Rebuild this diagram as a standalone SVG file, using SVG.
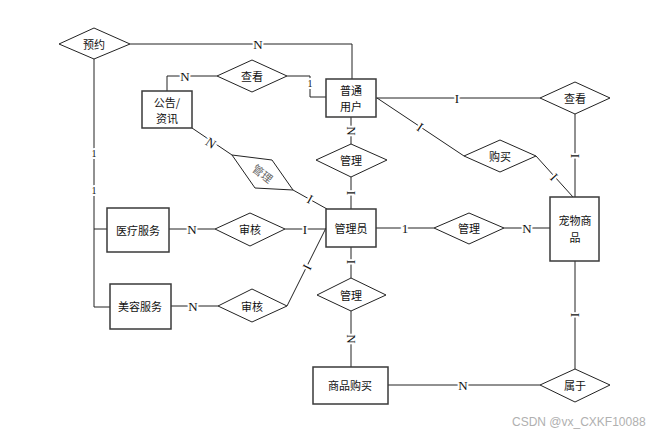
<svg xmlns="http://www.w3.org/2000/svg" width="652" height="435" viewBox="0 0 652 435">
<style>
.bg{fill:#fff}
.ent rect{fill:#fff;stroke:#3a3a3a;stroke-width:1.5}
.rel polygon{fill:#fff;stroke:#222;stroke-width:1}
.t{font-family:"Noto Sans CJK SC","Liberation Sans",sans-serif;font-size:11px;fill:#111;text-anchor:middle;dominant-baseline:central}
.conn path{fill:none;stroke:#222;stroke-width:1}
.lb{font-family:"Liberation Serif",serif;font-size:13px;fill:#111;text-anchor:middle;dominant-baseline:central;stroke:#fff;stroke-width:4;paint-order:stroke}
.sm{font-size:10px}
.wm{font-family:"Liberation Sans",sans-serif;font-size:12px;fill:#b0b0b0}
</style>
<rect class="bg" width="652" height="435"/>
<g class="conn" id="connectors">
<path d="M130,44 H352 V79"/>
<path d="M94,59 V307 M94,229 H107 M94,307 H110"/>
<path d="M217,76 H167 V91"/>
<path d="M287,76 H310 V97 H326"/>
<path d="M376,98 H540"/>
<path d="M377,98 L464,156"/>
<path d="M536,156 L573,197"/>
<path d="M575,114 V197"/>
<path d="M351,117 V144"/>
<path d="M351,177 V209"/>
<path d="M192,128 L232,155"/>
<path d="M293,190 L327,209"/>
<path d="M169,229 H215"/>
<path d="M285,229 H326"/>
<path d="M171,306 H218"/>
<path d="M287,306 L326,228"/>
<path d="M376,228 H434"/>
<path d="M504,228 H550"/>
<path d="M351,247 V278"/>
<path d="M351,311 V367"/>
<path d="M388,385 H540"/>
<path d="M575,261 V369"/>
</g>
<g id="labels">
<text class="lb" x="258" y="44">N</text>
<text class="lb" x="185" y="76">N</text>
<text class="lb sm" x="310" y="83">1</text>
<text class="lb" x="457" y="98">I</text>
<text class="lb" x="420" y="127" transform="rotate(34 420 127)">I</text>
<text class="lb" x="554" y="177" transform="rotate(47 554 177)">I</text>
<text class="lb" x="575" y="156" transform="rotate(90 575 156)">I</text>
<text class="lb" x="351" y="131" transform="rotate(90 351 131)">N</text>
<text class="lb" x="351" y="193" transform="rotate(90 351 193)">I</text>
<text class="lb" x="211" y="143" transform="rotate(34 211 143)">N</text>
<text class="lb" x="310" y="199" transform="rotate(28 310 199)">I</text>
<text class="lb" x="192" y="229">N</text>
<text class="lb" x="305" y="229">I</text>
<text class="lb" x="193" y="306">N</text>
<text class="lb" x="307" y="267" transform="rotate(-63 307 267)">I</text>
<text class="lb" x="405" y="228">1</text>
<text class="lb" x="527" y="228">N</text>
<text class="lb" x="351" y="262" transform="rotate(90 351 262)">I</text>
<text class="lb" x="351" y="339" transform="rotate(90 351 339)">N</text>
<text class="lb" x="463" y="385">N</text>
<text class="lb" x="575" y="315" transform="rotate(90 575 315)">I</text>
<text class="lb sm" x="94" y="153">1</text>
<text class="lb sm" x="94" y="190">1</text>
</g>
<g id="n-yuyue" class="rel"><polygon points="59,44 94,28 130,44 94,59"/><text class="t" x="94" y="44">预约</text></g>
<g id="n-chakan1" class="rel"><polygon points="217,76 252,60 287,76 252,92"/><text class="t" x="252" y="76">查看</text></g>
<g id="n-gonggao" class="ent"><rect x="142" y="91" width="50" height="37"/><text class="t" x="167" y="101.5">公告/</text><text class="t" x="167" y="117.5">资讯</text></g>
<g id="n-putong" class="ent"><rect x="326" y="79" width="50" height="38"/><text class="t" x="351" y="90">普通</text><text class="t" x="351" y="106">用户</text></g>
<g id="n-chakan2" class="rel"><polygon points="540,98 575,82 610,98 575,114"/><text class="t" x="575" y="98">查看</text></g>
<g id="n-goumai" class="rel"><polygon points="464,156 500,140 536,156 500,172"/><text class="t" x="500" y="156">购买</text></g>
<g id="n-guanli1" class="rel"><polygon points="316,160 351,144 387,160 351,177"/><text class="t" x="351" y="160">管理</text></g>
<g id="n-guanli-diag" class="rel"><polygon points="232,155 272,160 293,190 255,188"/><text class="t" x="263" y="173" transform="rotate(38 263 173)" style="fill:#666">管理</text></g>
<g id="n-guanliyuan" class="ent"><rect x="326" y="209" width="50" height="38"/><text class="t" x="351" y="228">管理员</text></g>
<g id="n-yiliao" class="ent"><rect x="107" y="208" width="62" height="44"/><text class="t" x="138" y="230">医疗服务</text></g>
<g id="n-shenhe1" class="rel"><polygon points="215,229 250,213 285,229 250,246"/><text class="t" x="250" y="229">审核</text></g>
<g id="n-meirong" class="ent"><rect x="110" y="284" width="61" height="45"/><text class="t" x="140" y="306">美容服务</text></g>
<g id="n-shenhe2" class="rel"><polygon points="218,306 252,289 287,306 252,322"/><text class="t" x="252" y="306">审核</text></g>
<g id="n-guanli2" class="rel"><polygon points="434,228 469,213 504,228 469,244"/><text class="t" x="469" y="228">管理</text></g>
<g id="n-chongwu" class="ent"><rect x="550" y="197" width="49" height="64"/><text class="t" x="575" y="220">宠物商</text><text class="t" x="575" y="237">品</text></g>
<g id="n-guanli3" class="rel"><polygon points="317,295 351,278 386,295 351,311"/><text class="t" x="351" y="295">管理</text></g>
<g id="n-shangpin" class="ent"><rect x="313" y="367" width="75" height="37"/><text class="t" x="350" y="385">商品购买</text></g>
<g id="n-shuyu" class="rel"><polygon points="540,385 575,369 610,385 575,402"/><text class="t" x="575" y="385">属于</text></g>
<text class="wm" x="512" y="426">CSDN @vx_CXKF10088</text>
</svg>
